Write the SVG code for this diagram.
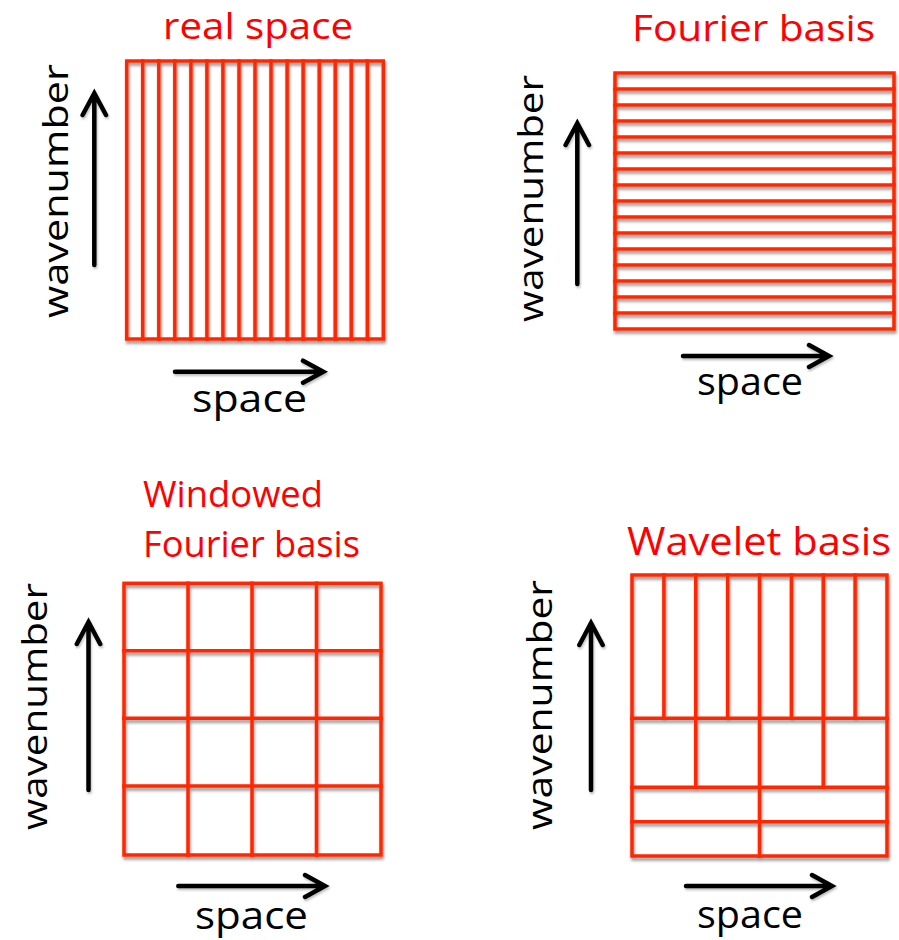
<svg xmlns="http://www.w3.org/2000/svg" width="899" height="940" viewBox="0 0 899 940">
<style>
.grid{fill:none;stroke:#FF2600;stroke-width:3.5;stroke-linecap:square}
.arr{fill:none;stroke:#000;stroke-width:4.5;stroke-linecap:round;stroke-linejoin:miter}
.title{font-family:"Open Sans","Liberation Sans",sans-serif;fill:#FF0000}
.lab{font-family:"Open Sans","Liberation Sans",sans-serif;fill:#000}
</style>
<defs>
<filter id="sh" x="-10%" y="-10%" width="120%" height="120%">
<feDropShadow dx="1" dy="3" stdDeviation="1.5" flood-color="#000" flood-opacity="0.4"/>
</filter>
<filter id="sha" x="-20%" y="-20%" width="140%" height="140%">
<feDropShadow dx="1" dy="2" stdDeviation="1.2" flood-color="#000" flood-opacity="0.25"/>
</filter>
</defs>
<rect width="899" height="940" fill="#fff"/>

<g id="real-space">
<text class="title" x="163" y="39" font-size="36" textLength="190" lengthAdjust="spacingAndGlyphs">real space</text>
<g class="grid" filter="url(#sh)">
<rect x="126.7" y="61" width="256.6" height="278"/>
<path d="M142.7 61V339M158.8 61V339M174.8 61V339M190.9 61V339M206.9 61V339M222.9 61V339M239 61V339M255 61V339M271 61V339M287.1 61V339M303.1 61V339M319.2 61V339M335.2 61V339M351.2 61V339M367.3 61V339"/>
</g>
<text class="lab" transform="translate(68,318) rotate(-90)" font-size="35" textLength="254" lengthAdjust="spacingAndGlyphs">wavenumber</text>
<text class="lab" x="192" y="411.7" font-size="39" textLength="115" lengthAdjust="spacingAndGlyphs">space</text>
</g>

<g id="fourier-basis">
<text class="title" x="632" y="40.5" font-size="37" textLength="243" lengthAdjust="spacingAndGlyphs">Fourier basis</text>
<g class="grid" filter="url(#sh)">
<rect x="615" y="73" width="279" height="256"/>
<path d="M615 89H894M615 105H894M615 121H894M615 137H894M615 153H894M615 169H894M615 185H894M615 201H894M615 217H894M615 233H894M615 249H894M615 265H894M615 281H894M615 297H894M615 313H894"/>
</g>
<text class="lab" transform="translate(543,322) rotate(-90)" font-size="35" textLength="247" lengthAdjust="spacingAndGlyphs">wavenumber</text>
<text class="lab" x="697" y="395" font-size="39" textLength="106" lengthAdjust="spacingAndGlyphs">space</text>
</g>

<g id="windowed-fourier-basis">
<text class="title" x="143" y="507.3" font-size="36" textLength="180" lengthAdjust="spacingAndGlyphs">Windowed</text>
<text class="title" x="143" y="557.3" font-size="36" textLength="217" lengthAdjust="spacingAndGlyphs">Fourier basis</text>
<g class="grid" filter="url(#sh)">
<rect x="124" y="583.3" width="257" height="271.7"/>
<path d="M188 583.3V855M252 583.3V855M316.5 583.3V855M124 650.7H381M124 718.3H381M124 786H381"/>
</g>
<text class="lab" transform="translate(47,830) rotate(-90)" font-size="35" textLength="247" lengthAdjust="spacingAndGlyphs">wavenumber</text>
<text class="lab" x="195" y="929" font-size="39" textLength="113" lengthAdjust="spacingAndGlyphs">space</text>
</g>

<g id="wavelet-basis">
<text class="title" x="627" y="555" font-size="38" textLength="264" lengthAdjust="spacingAndGlyphs">Wavelet basis</text>
<g class="grid" filter="url(#sh)">
<rect x="632" y="575" width="255" height="281"/>
<path d="M632 718.3H887M632 787.3H887M632 821.7H887"/>
<path d="M663.9 575V718.3M695.75 575V787.3M727.6 575V718.3M759.5 575V856M791.4 575V718.3M823.25 575V787.3M855.1 575V718.3"/>
</g>
<text class="lab" transform="translate(552,830) rotate(-90)" font-size="35" textLength="250" lengthAdjust="spacingAndGlyphs">wavenumber</text>
<text class="lab" x="697" y="928" font-size="39" textLength="106" lengthAdjust="spacingAndGlyphs">space</text>
</g>

<g id="connectors" class="arr" filter="url(#sha)">
<path d="M94.3 265V95M82.6 115L94.3 93.3L106 115"/>
<path d="M175 371.7H321M303 360.7L323.3 371.7L303 382.7"/>
<path d="M577.3 284V125M565.6 145L577.3 123.3L589 145"/>
<path d="M683 356H827M809 345L829 356L809 367"/>
<path d="M88.5 790V624M76.8 644L88.5 622L100.2 644"/>
<path d="M178.3 886H323M305 875L325 886L305 897"/>
<path d="M591 790V625M579.3 645L591 623L602.7 645"/>
<path d="M686 886H830M812 875L832 886L812 897"/>
</g>
</svg>
